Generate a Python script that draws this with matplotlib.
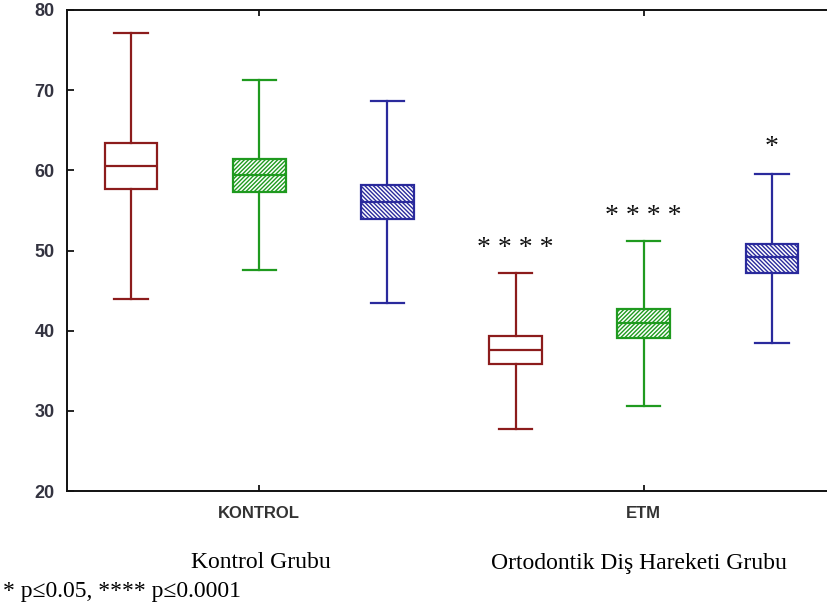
import matplotlib
matplotlib.use("Agg")
import matplotlib.pyplot as plt

# box statistics (Kontrol, then ETM; red, green, blue)
groups = ["KONTROL", "ETM"]
whisker_low = [44.0, 47.6, 43.5, 27.7, 30.6, 38.5]
q1 = [57.7, 57.3, 53.9, 35.8, 39.1, 47.2]
medians = [60.6, 59.4, 56.1, 37.6, 41.0, 49.2]
q3 = [63.4, 61.4, 58.2, 39.3, 42.7, 50.8]
whisker_high = [77.1, 71.3, 68.6, 47.2, 51.2, 59.5]
stars = ["", "", "", "* * * *", "* * * *", "*"]
star_y = [None, None, None, 50.2, 54.2, 62.9]

colors = ["#8c1c1c", "#1f9a1f", "#2a2a9c"]
hatches = ["", "////////", "\\\\\\\\\\\\\\\\"]

plt.rcParams["hatch.linewidth"] = 1.0

fig = plt.figure(figsize=(8.27, 6.14), dpi=100)
ax = fig.add_axes([67 / 827, 123 / 614, 760 / 827, 481 / 614])

stats = []
for i in range(6):
    stats.append({"whislo": whisker_low[i], "q1": q1[i], "med": medians[i],
                  "q3": q3[i], "whishi": whisker_high[i], "fliers": []})

positions = list(range(1, 7))
bp = ax.bxp(stats, positions=positions, widths=0.41, capwidths=0.26,
            patch_artist=True, showfliers=False)

for i in range(6):
    c = colors[i % 3]
    box = bp["boxes"][i]
    box.set_facecolor("white")
    box.set_edgecolor(c)
    box.set_hatch(hatches[i % 3])
    box.set_linewidth(1.6)
    bp["medians"][i].set_color(c)
    bp["medians"][i].set_linewidth(1.6)
    for k in (2 * i, 2 * i + 1):
        bp["whiskers"][k].set_color(c)
        bp["whiskers"][k].set_linewidth(1.6)
        bp["caps"][k].set_color(c)
        bp["caps"][k].set_linewidth(1.6)
    if stars[i]:
        ax.text(positions[i], star_y[i], stars[i], ha="center", va="center",
                fontsize=20, family="Liberation Serif", color="#111111")

ax.set_ylim(20, 80)
ax.set_xlim(0.5, 6.43)
ax.set_yticks([20, 30, 40, 50, 60, 70, 80])
ax.set_xticks([2, 5])
ax.set_xticklabels(groups)

ax.spines["right"].set_visible(False)
for s in ("left", "top", "bottom"):
    ax.spines[s].set_linewidth(1.4)
    ax.spines[s].set_color("#111111")

ax.tick_params(axis="y", direction="in", length=5, width=1.2, pad=9,
               labelsize=13, labelcolor="#333340")
ax.tick_params(axis="x", direction="in", length=4, width=1.2, pad=11,
               labelsize=12, labelcolor="#333333", top=True)
for lab in ax.get_yticklabels() + ax.get_xticklabels():
    lab.set_family("Liberation Sans")
    lab.set_fontweight("bold")

fig.text(261 / 827, 1 - 563 / 614, "Kontrol Grubu", ha="center", va="center",
         fontsize=17, family="Liberation Serif")
fig.text(639 / 827, 1 - 563 / 614, "Ortodontik Diş Hareketi Grubu", ha="center",
         va="center", fontsize=17, family="Liberation Serif")
fig.text(3 / 827, 1 - 591 / 614, "* p≤0.05, **** p≤0.0001", ha="left",
         va="center", fontsize=17, family="Liberation Serif")

fig.savefig("out.png", dpi=100)
